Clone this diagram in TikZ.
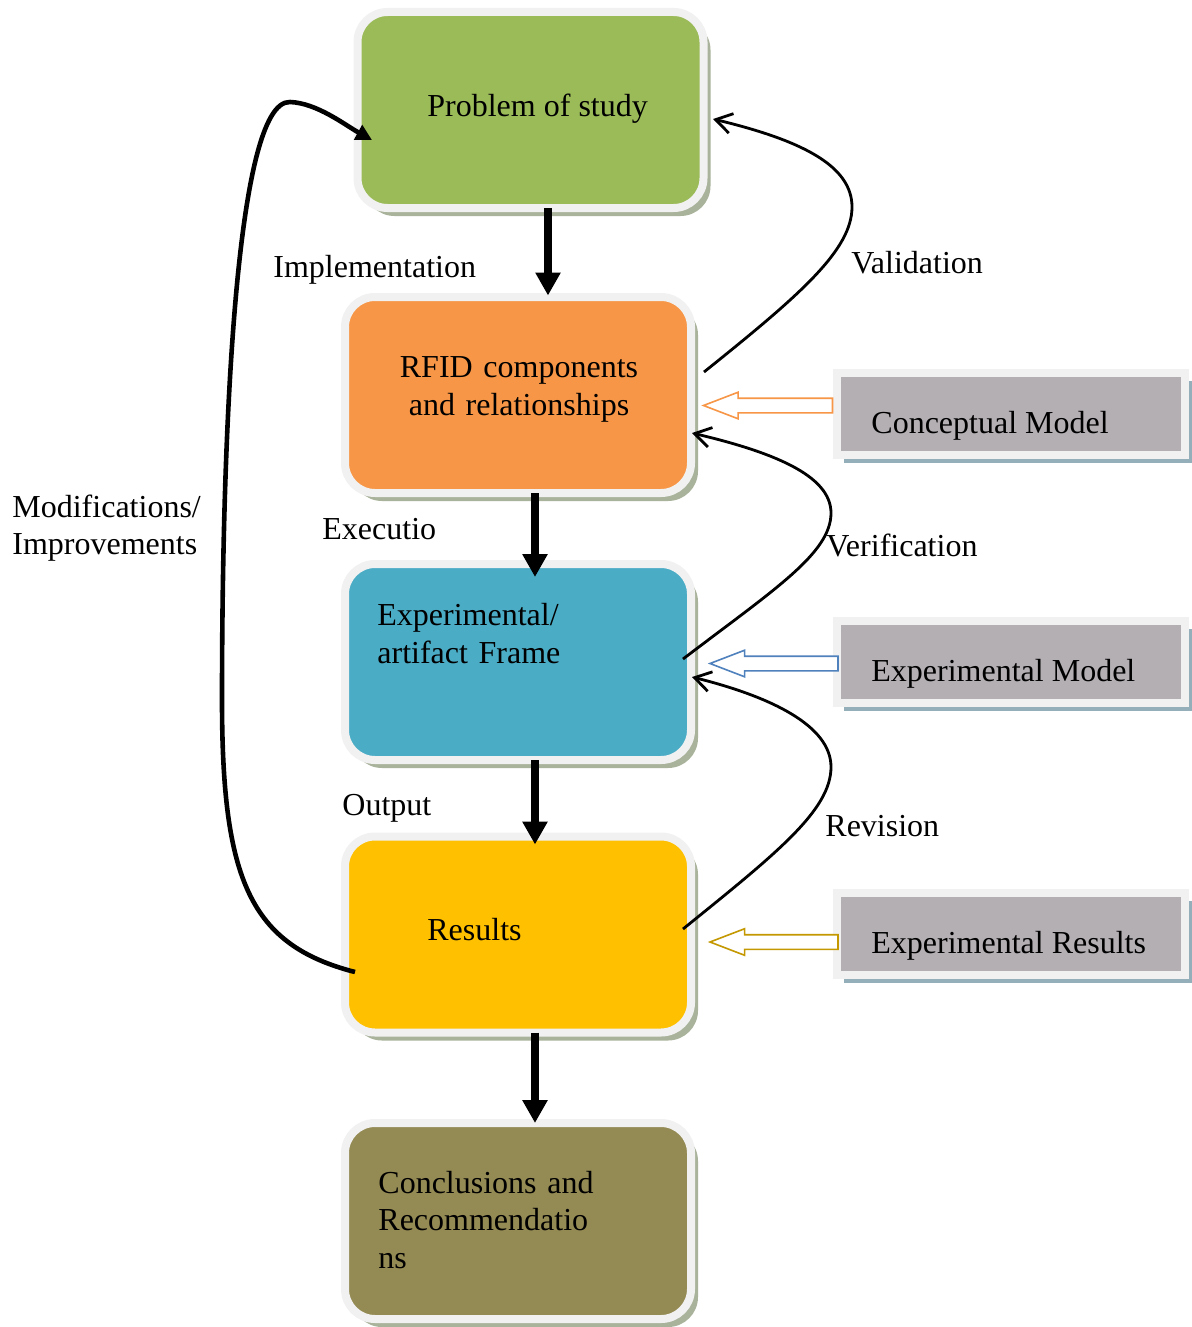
\documentclass[tikz,border=0pt]{standalone}
\usepackage{fontspec}
\setmainfont{Liberation Serif}
\usetikzlibrary{arrows.meta,shapes.arrows,shadows}
\definecolor{cgreen}{HTML}{9BBB59}
\definecolor{corange}{HTML}{F79646}
\definecolor{cblue}{HTML}{4BACC6}
\definecolor{cyellow}{HTML}{FFC000}
\definecolor{colive}{HTML}{948A54}
\definecolor{cgray}{HTML}{B4AFB3}
\definecolor{cborder}{HTML}{F1F1F1}
\definecolor{cshadow}{HTML}{A9B39B}
\definecolor{cgshadow}{HTML}{95AFBA}
\definecolor{aorange}{HTML}{F79646}
\definecolor{ablue}{HTML}{4F81BD}
\definecolor{agold}{HTML}{C49800}
\tikzset{
  mainbox/.style={rounded corners=15pt, draw=cborder, line width=4pt, outer sep=0pt,
    minimum width=173pt, minimum height=98pt, inner sep=0pt,
    drop shadow={shadow xshift=3.5pt, shadow yshift=-4pt, fill=cshadow, opacity=1}},
  graybox/.style={draw=cborder, line width=4pt, fill=cgray, outer sep=0pt,
    minimum width=174pt, minimum height=41pt, inner sep=0pt,
    drop shadow={shadow xshift=3.5pt, shadow yshift=-4pt, fill=cgshadow, opacity=1}},
  txt/.style={font=\fontsize{16pt}{19pt}\selectfont, inner sep=0pt, anchor=base west},
  mtxt/.style={txt, text width=160pt, align=left},
  bigarrow/.style={line width=3.8pt, -{Triangle[width=12pt,length=11.5pt]}},
  curvearrow/.style={line width=1.4pt, -{Straight Barb[length=8pt,width=10pt]}},
  modarrow/.style={line width=2.3pt, -{Triangle[width=8pt,length=8pt]}},
  hollow/.style={single arrow, shape border rotate=180, fill=white, line width=0.8pt,
    inner xsep=0pt, inner ysep=3.25pt, outer sep=0pt, single arrow head extend=3pt,
    single arrow tip angle=42, minimum height=64pt},
}
\begin{document}
\begin{tikzpicture}[x=0.5pt,y=-0.5pt]
\fill[white] (0,0) rectangle (1192,1327);
\useasboundingbox (0,0) rectangle (1192,1327);

% main boxes
\node[mainbox, fill=cgreen]  (b1) at (530.5,110) {};
\node[mainbox, fill=corange] (b2) at (518,395) {};
\node[mainbox, fill=cblue]   (b3) at (518,662) {};
\node[mainbox, fill=cyellow] (b4) at (518,934.5) {};
\node[mainbox, fill=colive]  (b5) at (518,1221) {};

% gray boxes
\node[graybox] (g1) at (1011,414) {};
\node[graybox] (g2) at (1011,662) {};
\node[graybox] (g3) at (1011,934) {};

% box texts
\node[txt] (t1) at (427,117) {Problem of study};
\node[txt, anchor=base, text width=160pt, align=center] (t2) at (519,377) {RFID components\\and relationships};
\node[mtxt] (t3) at (377,625) {Experimental/\\artifact Frame};
\node[txt] (t4) at (427,940) {Results};
\node[mtxt, font=\fontsize{16pt}{18.8pt}\selectfont] (t5) at (378,1193) {Conclusions and\\Recommendatio\\ns};
\node[txt] (tg1) at (871,433) {Conceptual Model};
\node[txt] (tg2) at (871,681) {Experimental Model};
\node[txt] (tg3) at (871,953) {Experimental Results};

% labels
\node[txt] (l1) at (273,277) {Implementation};
\node[txt] (l2) at (851,273) {Validation};
\node[txt] (l3) at (322,539) {Executio};
\node[txt] (l4) at (826,556) {Verification};
\node[txt] (l5) at (342,815) {Output};
\node[txt] (l6) at (825,836) {Revision};
\node[mtxt, font=\fontsize{16pt}{18.5pt}\selectfont] (l7) at (12,517) {Modifications/\\Improvements};

% hollow block arrows
\node[hollow, draw=aorange, minimum height=64.5pt] (h1) at (777.5,405.5) {};
\node[hollow, draw=ablue] (h2) at (783.5,663.5) {};
\node[hollow, draw=agold] (h3) at (783.5,942) {};

% thick down arrows
\draw[bigarrow] ([xshift=8.75pt]b1.south) -- ([xshift=15pt,yshift=0.75pt]b2.north);
\draw[bigarrow] ([xshift=8.5pt]b2.south) -- ([xshift=8.5pt,yshift=-6.5pt]b3.north);
\draw[bigarrow] ([xshift=8.5pt]b3.south) -- ([xshift=8.5pt,yshift=-4pt]b4.north);
\draw[bigarrow] ([xshift=8.5pt]b4.south) -- ([xshift=8.5pt]b5.north);

% curved arrows
\coordinate (vs) at (704,372);
\coordinate (ve) at (713,119);
\draw[curvearrow] (vs) .. controls +(96,-77) and (852,250) .. (852,207)
  .. controls (852,165) and +(87,21) .. (ve);
\coordinate (fs) at (683,659);
\coordinate (fe) at (692,433);
\draw[curvearrow] (fs) .. controls +(92,-70) and (831,553) .. (831,513)
  .. controls (831,475) and +(80,19) .. (fe);
\coordinate (rs) at (683,929);
\coordinate (re) at (692,677);
\draw[curvearrow] (rs) .. controls +(94,-76) and (831,810) .. (831,767)
  .. controls (831,726) and +(80,20) .. (re);

% modifications arrow
\coordinate (ms) at (355,972);
\coordinate (me) at (372,140);
\draw[modarrow] (ms) .. controls (250,945) and (222,880) .. (222,700)
  .. controls (222,450) and (234,100) .. (290,102)
  .. controls (317,103) and (345,125) .. (me);
\end{tikzpicture}
\end{document}
